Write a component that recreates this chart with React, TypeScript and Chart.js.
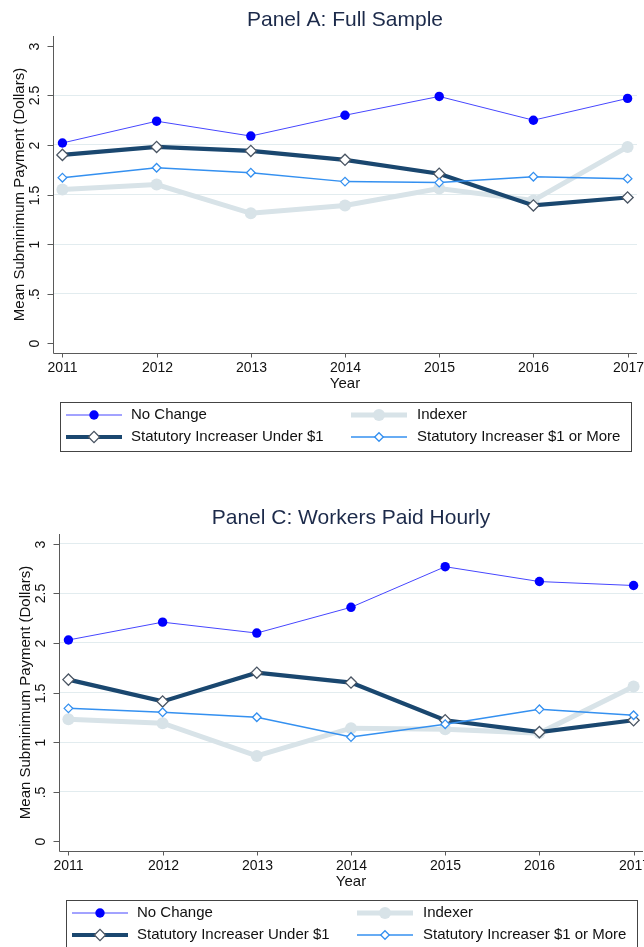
import React, { useEffect, useRef } from "react";
import { Chart, registerables } from "chart.js";

Chart.register(...registerables);

// ---------- data ----------
const years = [2011, 2012, 2013, 2014, 2015, 2016, 2017];
const yTicks = [0, 0.5, 1, 1.5, 2, 2.5, 3];
const yTickLabels = ["0", ".5", "1", "1.5", "2", "2.5", "3"];
const seriesNames = [
  "No Change",
  "Indexer",
  "Statutory Increaser Under $1",
  "Statutory Increaser $1 or More",
];

// Panel A: Full Sample
const fullNoChange = [2.02, 2.24, 2.09, 2.3, 2.49, 2.25, 2.47];
const fullIndexer = [1.55, 1.6, 1.31, 1.39, 1.56, 1.44, 1.98];
const fullUnder1 = [1.9, 1.98, 1.94, 1.85, 1.71, 1.39, 1.47];
const fullOver1 = [1.67, 1.77, 1.72, 1.63, 1.62, 1.68, 1.66];

// Panel C: Workers Paid Hourly
const hourlyNoChange = [2.03, 2.21, 2.1, 2.36, 2.77, 2.62, 2.58];
const hourlyIndexer = [1.23, 1.19, 0.86, 1.14, 1.13, 1.09, 1.56];
const hourlyUnder1 = [1.63, 1.41, 1.7, 1.6, 1.22, 1.1, 1.22];
const hourlyOver1 = [1.34, 1.3, 1.25, 1.05, 1.18, 1.33, 1.27];

// ---------- styles ----------
const FONT = '"Liberation Sans", Arial, Helvetica, sans-serif';
const styles = [
  { color: "#4646ff", width: 1, pointStyle: "circle", radius: 4.7, fill: "#0000ff", border: "#0000ff", bw: 0 },
  { color: "#d8e3e8", width: 5, pointStyle: "circle", radius: 6, fill: "#d8e3e8", border: "#d8e3e8", bw: 0 },
  { color: "#1a476f", width: 4.2, pointStyle: "rectRot", radius: 5.6, fill: "#ffffff", border: "#4a5563", bw: 1.3 },
  { color: "#3490f0", width: 1.5, pointStyle: "rectRot", radius: 4.3, fill: "#ffffff", border: "#3490f0", bw: 1.3 },
];

const CW = 644;
const CH = 460;

function drawMarker(ctx: CanvasRenderingContext2D, s: any, x: number, y: number) {
  ctx.beginPath();
  if (s.pointStyle === "circle") {
    ctx.arc(x, y, s.radius, 0, Math.PI * 2);
  } else {
    const r = s.radius;
    ctx.moveTo(x - r, y);
    ctx.lineTo(x, y - r);
    ctx.lineTo(x + r, y);
    ctx.lineTo(x, y + r);
    ctx.closePath();
  }
  ctx.fillStyle = s.fill;
  ctx.fill();
  if (s.bw > 0) {
    ctx.lineWidth = s.bw;
    ctx.strokeStyle = s.border;
    ctx.stroke();
  }
}

function makeDecor(title: string) {
  return {
    id: "panelDecor",
    afterDraw(chart: any) {
      const ctx: CanvasRenderingContext2D = chart.ctx;
      const { left, right, top, bottom } = chart.chartArea;
      const ys = chart.scales.y;
      const xs = chart.scales.x;
      ctx.save();

      // title
      ctx.fillStyle = "#1c2a4a";
      ctx.font = `21px ${FONT}`;
      ctx.textAlign = "center";
      ctx.textBaseline = "middle";
      ctx.fillText(title, (left + right) / 2, 20);

      // axis lines
      ctx.strokeStyle = "#5a5a5a";
      ctx.lineWidth = 1;
      const lx = Math.round(left) + 0.5;
      const by = Math.round(bottom) + 0.5;
      ctx.beginPath();
      ctx.moveTo(lx, top);
      ctx.lineTo(lx, by);
      ctx.lineTo(right, by);
      ctx.stroke();

      // y ticks + rotated labels
      ctx.font = `14px ${FONT}`;
      ctx.fillStyle = "#111";
      yTicks.forEach((v, i) => {
        const py = Math.round(ys.getPixelForValue(v)) + 0.5;
        ctx.beginPath();
        ctx.moveTo(lx - 6, py);
        ctx.lineTo(lx, py);
        ctx.stroke();
        ctx.save();
        ctx.translate(35, py);
        ctx.rotate(-Math.PI / 2);
        ctx.textAlign = "center";
        ctx.textBaseline = "middle";
        ctx.fillText(yTickLabels[i], 0, 0);
        ctx.restore();
      });

      // x ticks + labels
      years.forEach((yr) => {
        const px = Math.round(xs.getPixelForValue(yr)) + 0.5;
        ctx.beginPath();
        ctx.moveTo(px, by);
        ctx.lineTo(px, by + 4);
        ctx.stroke();
        ctx.textAlign = "center";
        ctx.textBaseline = "middle";
        ctx.fillText(String(yr), px, 368);
      });

      // axis titles
      ctx.font = `15px ${FONT}`;
      ctx.fillStyle = "#111";
      ctx.fillText("Year", (left + right) / 2, 384);
      ctx.save();
      ctx.translate(20, (top + bottom) / 2);
      ctx.rotate(-Math.PI / 2);
      ctx.fillText("Mean Subminimum Payment (Dollars)", 0, 0);
      ctx.restore();

      // legend box
      ctx.strokeStyle = "#444";
      ctx.lineWidth = 1;
      ctx.strokeRect(60.5, 402.5, 571, 49);
      const rows = [415, 437];
      const cols = [
        { l0: 66, l1: 122, m: 94, t: 131 },
        { l0: 351, l1: 407, m: 379, t: 417 },
      ];
      const layout = [
        [0, 0],
        [0, 1],
        [1, 0],
        [1, 1],
      ];
      ctx.font = `15px ${FONT}`;
      ctx.textAlign = "left";
      ctx.textBaseline = "middle";
      chart.data.datasets.forEach((ds: any, i: number) => {
        const [r, c] = layout[i];
        const y = rows[r];
        const col = cols[c];
        const s = styles[i];
        ctx.beginPath();
        ctx.strokeStyle = s.color;
        ctx.lineWidth = s.width;
        ctx.moveTo(col.l0, y);
        ctx.lineTo(col.l1, y);
        ctx.stroke();
        drawMarker(ctx, s, col.m, y);
        ctx.fillStyle = "#111";
        ctx.fillText(ds.label, col.t, y);
      });

      ctx.restore();
    },
  };
}

function Panel(props: { title: string; series: number[][]; left: number; top: number; gridTop: boolean }) {
  const ref = useRef<HTMLCanvasElement>(null);
  useEffect(() => {
    const { title, series, gridTop } = props;
    const chart = new Chart(ref.current as HTMLCanvasElement, {
      type: "line",
      data: {
        datasets: series.map((vals, i) => ({
          label: seriesNames[i],
          data: years.map((yr, j) => ({ x: yr, y: vals[j] })),
          borderColor: styles[i].color,
          backgroundColor: styles[i].fill,
          borderWidth: styles[i].width,
          pointStyle: styles[i].pointStyle as any,
          pointRadius: styles[i].radius,
          pointBackgroundColor: styles[i].fill,
          pointBorderColor: styles[i].border,
          pointBorderWidth: styles[i].bw,
          tension: 0,
          fill: false,
          clip: false as any,
          order: 3 - i,
        })),
      },
      options: {
        animation: false,
        responsive: false,
        events: [],
        layout: { padding: { left: 53, right: 7, top: 36, bottom: CH - 353 } },
        plugins: { legend: { display: false }, tooltip: { enabled: false }, title: { display: false } },
        scales: {
          x: {
            type: "linear",
            min: 2010.9,
            max: 2017.1,
            ticks: { display: false },
            grid: { display: false },
            border: { display: false },
            afterFit: (s: any) => {
              s.height = 0;
            },
          },
          y: {
            type: "linear",
            min: -0.1,
            max: 3.1,
            ticks: { display: false },
            afterBuildTicks: (s: any) => {
              s.ticks = yTicks.map((v) => ({ value: v }));
            },
            grid: {
              drawTicks: false,
              lineWidth: 1,
              color: (c: any) => {
                const v = c.tick ? c.tick.value : null;
                if (v === 0 || (v === 3 && !gridTop)) return "rgba(0,0,0,0)";
                return "#e2ecef";
              },
            },
            border: { display: false },
            afterFit: (s: any) => {
              s.width = 0;
            },
          },
        },
      },
      plugins: [makeDecor(title)],
    });
    return () => chart.destroy();
  }, []);
  return (
    <canvas
      ref={ref}
      width={CW}
      height={CH}
      style={{ position: "absolute", left: props.left, top: props.top, width: CW, height: CH }}
    />
  );
}

export default function App() {
  return (
    <div
      style={{
        position: "absolute",
        left: 0,
        top: 0,
        width: 644,
        height: 947,
        overflow: "hidden",
        background: "#ffffff",
      }}
    >
      <Panel
        title="Panel A: Full Sample"
        series={[fullNoChange, fullIndexer, fullUnder1, fullOver1]}
        left={0}
        top={0}
        gridTop={false}
      />
      <Panel
        title="Panel C: Workers Paid Hourly"
        series={[hourlyNoChange, hourlyIndexer, hourlyUnder1, hourlyOver1]}
        left={6}
        top={498}
        gridTop={true}
      />
    </div>
  );
}
